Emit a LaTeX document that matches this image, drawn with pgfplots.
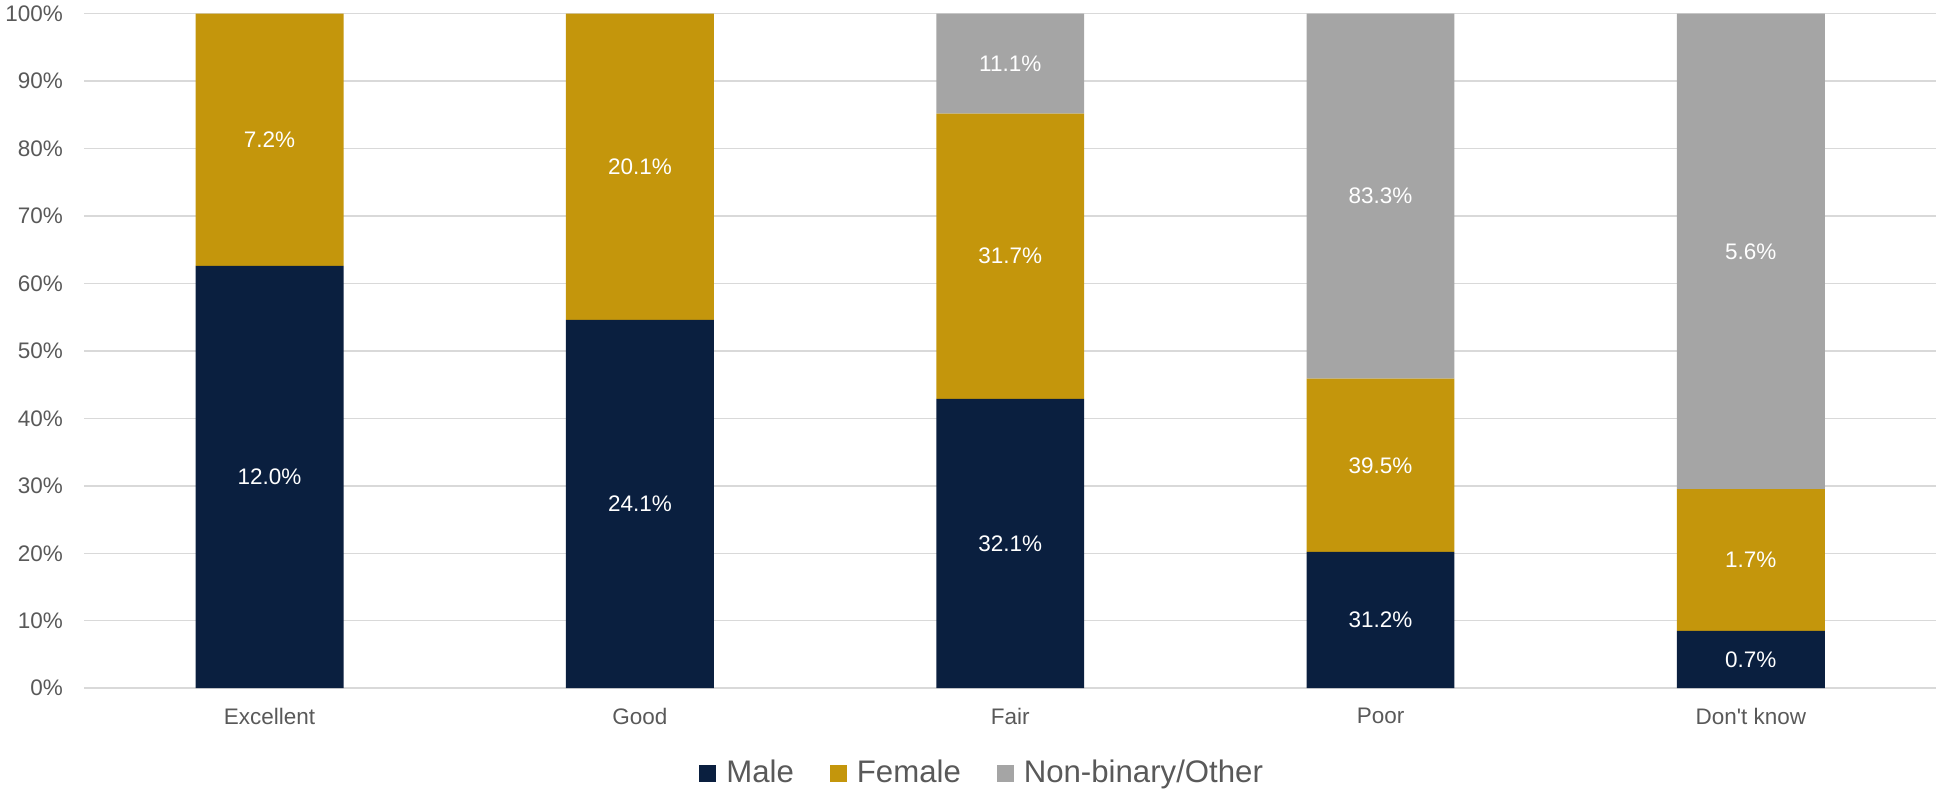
\documentclass[border=0pt]{standalone}
\usepackage{pgfplots}
\pgfplotsset{compat=1.18}
\usepackage{pgfplotstable}
\usepackage{fontspec}
\setmainfont{Liberation Sans}

\definecolor{male}{HTML}{0A1F3F}
\definecolor{female}{HTML}{C4960C}
\definecolor{nonbin}{HTML}{A5A5A5}
\definecolor{labgray}{HTML}{595959}
\definecolor{gridgray}{HTML}{D9D9D9}

% h = share of the bar (bar heights), lab = printed label
\pgfplotstableread{
x h lab
0 62.6 12.0
1 54.6 24.1
2 42.9 32.1
3 20.2 31.2
4 8.5 0.7
}\male
\pgfplotstableread{
x h lab
0 37.4 7.2
1 45.4 20.1
2 42.3 31.7
3 25.7 39.5
4 21.0 1.7
}\female
\pgfplotstableread{
x h lab
0 0 0
1 0 0
2 14.8 11.1
3 54.1 83.3
4 70.5 5.6
}\nonbin

\begin{document}
\begin{tikzpicture}
\begin{axis}[
  name=ax,
  width=926.5pt, height=337.5pt, scale only axis,
  ybar stacked, bar width=74pt,
  xmin=-0.5, xmax=4.5, ymin=0, ymax=100,
  xtick={0,...,4},
  xticklabels={Excellent,Good,Fair,Poor,Don\textquotesingle t know},
  ytick={0,10,...,100},
  yticklabel={\pgfmathprintnumber[assume math mode=true]{\tick}\%},
  axis line style={draw=none},
  major tick length=0pt,
  ymajorgrids,
  grid style={draw=gridgray, line width=0.75pt},
  tick label style={font=\fontsize{11.25}{13}\selectfont, text=labgray},
  yticklabel style={xshift=-7.25pt},
  xticklabel style={yshift=-6.25pt},
  point meta=explicit,
  visualization depends on={\thisrow{h} \as \hh},
  nodes near coords={\ifdim\hh pt>0.05pt\pgfmathprintnumber[fixed,fixed zerofill,precision=1,assume math mode=true]{\pgfplotspointmeta}\%\fi},
  every node near coord/.append style={anchor=center, text=white,
    font=\fontsize{11.25}{13}\selectfont},
  legend style={at={(0.487,0)}, anchor=center, yshift=-42.5pt,
    draw=none, fill=none, legend columns=-1,
    font=\fontsize{15.6}{18}\selectfont, text=labgray,
    nodes={inner xsep=5pt},
    /tikz/every even column/.append style={column sep=13pt}},
]
\addplot[fill=male, draw=none,
  legend image code/.code={\fill[male] (0pt,-4.25pt) rectangle (8.5pt,4.25pt);}]
  table[x=x, y=h, meta=lab] {\male};
\addplot[fill=female, draw=none,
  legend image code/.code={\fill[female] (0pt,-4.25pt) rectangle (8.5pt,4.25pt);}]
  table[x=x, y=h, meta=lab] {\female};
\addplot[fill=nonbin, draw=none,
  legend image code/.code={\fill[nonbin] (0pt,-4.25pt) rectangle (8.5pt,4.25pt);}]
  table[x=x, y=h, meta=lab] {\nonbin};
\legend{Male, Female, Non-binary/Other}
\end{axis}
\pgfresetboundingbox
\path[use as bounding box] ([xshift=-42.25pt,yshift=-50.15pt]ax.south west)
  rectangle ([xshift=2pt,yshift=6.85pt]ax.north east);
\end{tikzpicture}
\end{document}
